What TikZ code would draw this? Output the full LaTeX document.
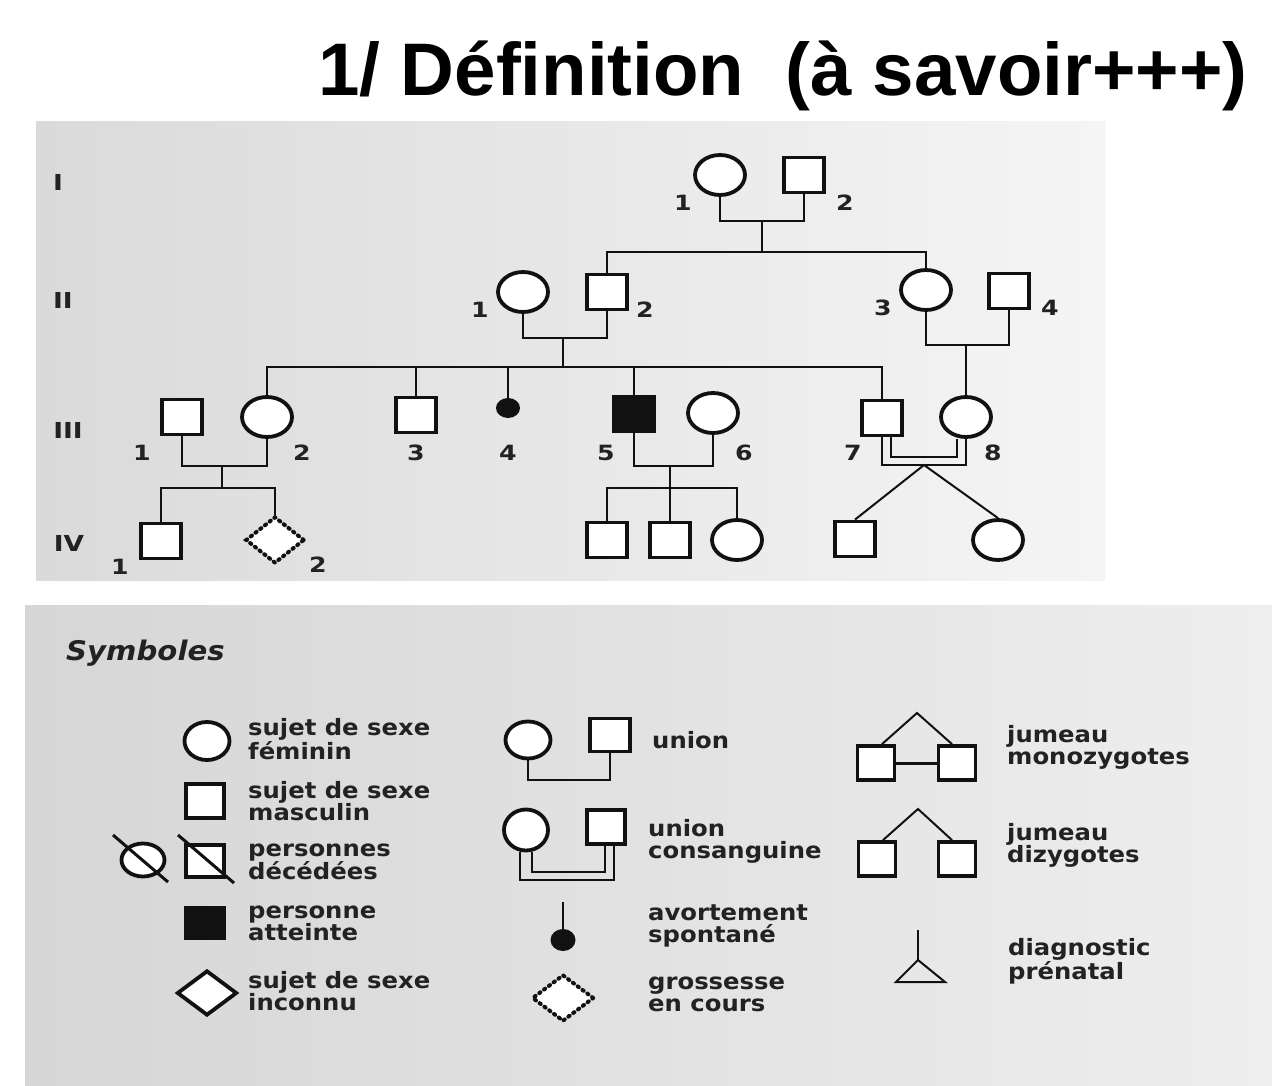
\documentclass[tikz,border=0pt]{standalone}
\usepackage{fontspec}
\usetikzlibrary{shapes.geometric,calc}
\newfontfamily\titlefont{Liberation Sans}
\newfontfamily\legfont[FakeStretch=1.08]{DejaVu Sans}
\newfontfamily\pedfont[FakeStretch=1.2]{DejaVu Sans}
\definecolor{ink}{HTML}{111111}
\definecolor{txt}{HTML}{222222}
\definecolor{panA}{HTML}{DADADA}
\definecolor{panB}{HTML}{EAEAEA}
\definecolor{panC}{HTML}{F5F5F5}
\definecolor{legA}{HTML}{D6D6D6}
\definecolor{legB}{HTML}{E5E5E5}
\definecolor{legC}{HTML}{EEEEEE}
\tikzset{
  pfem/.style={ellipse, draw=ink, line width=3.8pt, fill=white, minimum width=50pt, minimum height=40pt, inner sep=0pt},
  pmal/.style={rectangle, draw=ink, line width=3.8pt, fill=white, minimum width=40pt, minimum height=35pt, inner sep=0pt},
  paff/.style={pmal, fill=ink},
  pabort/.style={ellipse, fill=ink, minimum width=24pt, minimum height=20pt, inner sep=0pt},
  ppreg/.style={diamond, draw=ink, line width=4pt, line cap=round, dash pattern=on 1.4pt off 4.6pt, fill=white, minimum width=59pt, minimum height=47pt, inner sep=0pt},
  punk/.style={diamond, draw=ink, line width=3.8pt, fill=white, minimum width=60pt, minimum height=45pt, inner sep=0pt},
  plink/.style={draw=ink, line width=2pt},
  pnum/.style={font=\pedfont\bfseries\fontsize{21}{21}\selectfont, text=txt, inner sep=0pt},
  pgen/.style={font=\pedfont\bfseries\fontsize{22}{22}\selectfont, text=txt, inner sep=0pt},
  legtext/.style={anchor=west, align=left, inner sep=0pt, text=txt, font=\legfont\bfseries\fontsize{22.5}{22}\selectfont},
}
\begin{document}
\begin{tikzpicture}[x=1pt,y=-1pt]
\useasboundingbox (0,0) rectangle (1272,1086);
\fill[white] (0,0) rectangle (1272,1086);
% panels
\shade[left color=panA, middle color=panB, right color=panC] (36,122) rectangle (1105,580);
\shade[left color=legA, middle color=legB, right color=legC] (25,605) rectangle (1272,1086);
% title
\node[anchor=base west, inner sep=0pt, font=\titlefont\bfseries\fontsize{74.5}{80}\selectfont] (title) at (318,96) {1/ Définition\ \ (à savoir+++)};
% generation labels
\node[pgen] (gI) at (58,182) {I};
\node[pgen] (gII) at (63,300) {II};
\node[pgen] (gIII) at (68,430) {III};
\node[pgen] (gIV) at (69,543) {IV};
% generation I
\node[pfem] (I1) at (720,175) {};
\node[pmal] (I2) at (804,175) {};
% generation II
\node[pfem] (II1) at (523,292) {};
\node[pmal] (II2) at (607,292) {};
\node[pfem] (II3) at (926,290) {};
\node[pmal] (II4) at (1009,291) {};
% generation III
\node[pmal] (III1) at (182,417) {};
\node[pfem] (III2) at (267,417) {};
\node[pmal] (III3) at (416,415) {};
\node[pabort] (III4) at (508,408) {};
\node[paff] (III5) at (634,414) {};
\node[pfem] (III6) at (713,413) {};
\node[pmal] (III7) at (882,418) {};
\node[pfem] (III8) at (966,417) {};
% generation IV
\node[pmal] (IV1) at (161,541) {};
\node[ppreg] (IV2) at (275,540) {};
\node[pmal] (IV3) at (607,540) {};
\node[pmal] (IV4) at (670,540) {};
\node[pfem] (IV5) at (737,540) {};
\node[pmal] (IV6) at (855,539) {};
\node[pfem] (IV7) at (998,540) {};
% junction coordinates
\coordinate (mI) at (762,221);
\coordinate (sI) at (762,252);
\coordinate (mII) at (563,338);
\coordinate (sII) at (563,367);
\coordinate (mII2) at (966,345);
\coordinate (mIII) at (222,466);
\coordinate (sIV) at (222,488);
\coordinate (mIII2) at (670,466);
\coordinate (sIV2) at (670,488);
\coordinate (cO) at (924,465);
\coordinate (cI) at (924,457);
% connectors
\draw[plink] (I1.south) |- (mI) -| (I2.south);
\draw[plink] (mI) -- (sI);
\draw[plink] (II2.north) |- (sI) -| (II3.north);
\draw[plink] (II1.south) |- (mII) -| (II2.south);
\draw[plink] (mII) -- (sII);
\draw[plink] (III2.north) |- (sII) -| (III7.north);
\draw[plink] (III3.north) -- (III3.north |- sII);
\draw[plink] (III4.north) -- (III4.north |- sII);
\draw[plink] (III5.north) -- (III5.north |- sII);
\draw[plink] (II3.south) |- (mII2) -| (II4.south);
\draw[plink] (mII2) -- (III8.north);
\draw[plink] (III1.south) |- (mIII) -| (III2.south);
\draw[plink] (mIII) -- (sIV);
\draw[plink] (IV1.north) |- (sIV) -| (IV2.north);
\draw[plink] (III5.south) |- (mIII2) -| (III6.south);
\draw[plink] (mIII2) -- (sIV2);
\draw[plink] (IV3.north) |- (sIV2) -| (IV5.north);
\draw[plink] (IV4.north) -- (sIV2);
\draw[plink] (III7.south) |- (cO) -| (III8.south);
\draw[plink] ($(III7.south)+(9,0)$) |- (cI) -| ($(III8.south)+(-9,0)$);
\draw[plink] (IV6.north) -- (cO) -- (IV7.north);
% numbers
\node[pnum] (nI1) at (683,203) {1};
\node[pnum] (nI2) at (845,203) {2};
\node[pnum] (nII1) at (480,310) {1};
\node[pnum] (nII2) at (645,310) {2};
\node[pnum] (nII3) at (883,308) {3};
\node[pnum] (nII4) at (1050,308) {4};
\node[pnum] (nIII1) at (142,453) {1};
\node[pnum] (nIII2) at (302,453) {2};
\node[pnum] (nIII3) at (416,453) {3};
\node[pnum] (nIII4) at (508,453) {4};
\node[pnum] (nIII5) at (606,453) {5};
\node[pnum] (nIII6) at (744,453) {6};
\node[pnum] (nIII7) at (853,453) {7};
\node[pnum] (nIII8) at (993,453) {8};
\node[pnum] (nIV1) at (120,567) {1};
\node[pnum] (nIV2) at (318,565) {2};
% legend
\node[anchor=west, inner sep=0pt, text=txt, font=\legfont\bfseries\itshape\fontsize{27}{27}\selectfont] (sym) at (66,653) {Symboles};
% column 1
\node[pfem, minimum width=45pt, minimum height=38pt] (Lf) at (207,741) {};
\node[legtext] (tLf) at (248,739) {sujet de sexe\\féminin};
\node[pmal, minimum width=38pt, minimum height=34pt] (Lm) at (205,801) {};
\node[legtext] (tLm) at (248,801) {sujet de sexe\\masculin};
\node[pfem, minimum width=43pt, minimum height=33pt] (Ldf) at (143,860) {};
\node[pmal, minimum width=38pt, minimum height=32pt] (Ldm) at (205,861) {};
\draw[plink, line width=3pt] ($(Ldf.center)+(-30,-25)$) -- ($(Ldf.center)+(25,22)$);
\draw[plink, line width=3pt] ($(Ldm.center)+(-27,-26)$) -- ($(Ldm.center)+(29,22)$);
\node[legtext] (tLd) at (248,862) {personnes\\décédées};
\node[paff, minimum width=38pt, minimum height=30pt] (La) at (205,923) {};
\node[legtext] (tLa) at (248,923) {personne\\atteinte};
\node[punk] (Lu) at (207,993) {};
\node[legtext] (tLu) at (248,991) {sujet de sexe\\inconnu};
% column 2
\node[pfem, minimum width=45pt, minimum height=37pt] (Lun1) at (528,740) {};
\node[pmal, minimum width=40pt, minimum height=33pt] (Lun2) at (610,735) {};
\coordinate (LunM) at (570,780);
\draw[plink] (Lun1.south) |- (LunM) -| (Lun2.south);
\node[legtext] (tLun) at (652,740) {union};
\node[pfem, minimum width=44pt, minimum height=41pt] (Lc1) at (526,830) {};
\node[pmal, minimum width=38pt, minimum height=34pt] (Lc2) at (606,827) {};
\coordinate (LcO) at (567,880);
\coordinate (LcI) at (567,872);
\draw[plink] ($(Lc1.south)+(-6,0)$) |- (LcO) -| ($(Lc2.south)+(8,0)$);
\draw[plink] ($(Lc1.south)+(6,0)$) |- (LcI) -| ($(Lc2.south)+(-1,0)$);
\node[legtext] (tLc) at (648,841) {union\\consanguine};
\node[pabort, minimum width=25pt, minimum height=22pt] (Lab) at (563,940) {};
\coordinate (LabT) at (563,902);
\draw[plink] (LabT) -- (Lab.north);
\node[legtext] (tLab) at (648,926) {avortement\\spontané};
\node[ppreg, minimum width=62pt, minimum height=47pt] (Lp) at (563,998) {};
\node[legtext] (tLp) at (648,994) {grossesse\\en cours};
% column 3
\node[pmal, minimum width=37pt, minimum height=34pt] (Mz1) at (876,763) {};
\node[pmal, minimum width=37pt, minimum height=34pt] (Mz2) at (957,763) {};
\coordinate (MzA) at (917,713);
\draw[plink] ($(Mz1.north)+(6,0)$) -- (MzA) -- ($(Mz2.north)+(-5,0)$);
\draw[plink, line width=3pt] (Mz1.east) -- (Mz2.west);
\node[legtext] (tMz) at (1007,747) {jumeau\\monozygotes};
\node[pmal, minimum width=37pt, minimum height=34pt] (Dz1) at (877,859) {};
\node[pmal, minimum width=37pt, minimum height=34pt] (Dz2) at (957,859) {};
\coordinate (DzA) at (918,809);
\draw[plink] ($(Dz1.north)+(6,0)$) -- (DzA) -- ($(Dz2.north)+(-5,0)$);
\node[legtext] (tDz) at (1007,845) {jumeau\\dizygotes};
\coordinate (PnT) at (918,930);
\coordinate (PnA) at (918,960);
\draw[plink] (PnT) -- (PnA);
\draw[plink, line join=miter] (896,982) -- (PnA) -- (945,982) -- cycle;
\node[legtext] (tPn) at (1008,961) {diagnostic\\prénatal};
\end{tikzpicture}
\end{document}
